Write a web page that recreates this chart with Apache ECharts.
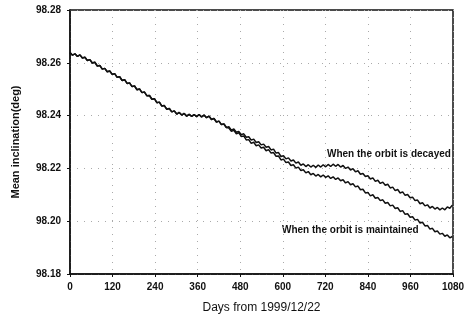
<!DOCTYPE html>
<html>
<head>
<meta charset="utf-8">
<script src="https://cdn.jsdelivr.net/npm/echarts@6/dist/echarts.min.js"></script>
<style>
  html, body { margin: 0; padding: 0; background: #fff; }
  #chart { width: 464px; height: 321px; }
</style>
</head>
<body>
<div id="chart"></div>
<script>
// days from 1999/12/22
const days = [0,7,14,21,28,35,42,49,56,63,70,77,84,91,98,105,112,119,126,133,140,147,154,161,168,175,182,189,196,203,210,217,224,231,238,245,252,259,266,273,280,287,294,301,308,315,322,329,336,343,350,357,364,371,378,385,392,399,406,413,420,427,434,441,448,455,462,469,476,483,490,497,504,511,518,525,532,539,546,553,560,567,574,581,588,595,602,609,616,623,630,637,644,651,658,665,672,679,686,693,700,707,714,721,728,735,742,749,756,763,770,777,784,791,798,805,812,819,826,833,840,847,854,861,868,875,882,889,896,903,910,917,924,931,938,945,952,959,966,973,980,987,994,1001,1008,1015,1022,1029,1036,1043,1050,1057,1064,1071,1078];

// both cases are the same up to day 441
const common = [98.2639,98.2629,98.2634,98.2624,98.2630,98.2618,98.2621,98.2609,98.2612,98.2599,98.2602,98.2588,98.2590,98.2576,98.2579,98.2566,98.2569,98.2556,98.2559,98.2545,98.2547,98.2533,98.2536,98.2522,98.2524,98.2510,98.2512,98.2498,98.2501,98.2487,98.2489,98.2475,98.2476,98.2462,98.2464,98.2449,98.2451,98.2436,98.2438,98.2424,98.2427,98.2414,98.2418,98.2406,98.2412,98.2402,98.2408,98.2398,98.2405,98.2397,98.2404,98.2396,98.2404,98.2395,98.2402,98.2392,98.2398,98.2385,98.2389,98.2376,98.2379,98.2366,98.2368,98.2355];

const decayedTail = [98.2358,98.2345,98.2349,98.2337,98.2340,98.2328,98.2331,98.2318,98.2320,98.2307,98.2311,98.2298,98.2301,98.2289,98.2292,98.2280,98.2283,98.2270,98.2273,98.2258,98.2260,98.2245,98.2248,98.2236,98.2240,98.2228,98.2232,98.2220,98.2224,98.2212,98.2217,98.2207,98.2214,98.2205,98.2212,98.2204,98.2213,98.2205,98.2214,98.2206,98.2215,98.2207,98.2216,98.2208,98.2215,98.2205,98.2211,98.2200,98.2205,98.2194,98.2199,98.2187,98.2191,98.2178,98.2181,98.2169,98.2172,98.2160,98.2164,98.2151,98.2155,98.2143,98.2148,98.2136,98.2140,98.2126,98.2129,98.2116,98.2120,98.2107,98.2111,98.2098,98.2101,98.2089,98.2091,98.2078,98.2080,98.2066,98.2070,98.2058,98.2062,98.2050,98.2056,98.2046,98.2052,98.2043,98.2050,98.2043,98.2054,98.2049,98.2061];

const maintainedTail = [98.2353,98.2341,98.2344,98.2331,98.2335,98.2321,98.2323,98.2308,98.2309,98.2295,98.2299,98.2286,98.2289,98.2277,98.2280,98.2267,98.2271,98.2258,98.2260,98.2246,98.2247,98.2232,98.2235,98.2222,98.2224,98.2211,98.2214,98.2201,98.2205,98.2192,98.2195,98.2183,98.2188,98.2176,98.2181,98.2171,98.2177,98.2168,98.2175,98.2166,98.2172,98.2162,98.2168,98.2158,98.2164,98.2153,98.2157,98.2145,98.2150,98.2138,98.2142,98.2130,98.2133,98.2119,98.2121,98.2107,98.2109,98.2096,98.2100,98.2087,98.2090,98.2078,98.2081,98.2068,98.2071,98.2058,98.2061,98.2048,98.2051,98.2037,98.2040,98.2026,98.2028,98.2015,98.2017,98.2004,98.2007,98.1993,98.1996,98.1982,98.1984,98.1970,98.1973,98.1960,98.1963,98.1951,98.1954,98.1943,98.1948,98.1937,98.1942];

const decayed = common.concat(decayedTail);
const maintained = common.concat(maintainedTail);

const font = 'Liberation Sans, Arial, sans-serif';

function pairs(vals) {
  return days.map((d, i) => [d, vals[i]]);
}

const chart = echarts.init(document.getElementById('chart'));

chart.setOption({
  animation: false,
  backgroundColor: '#fff',
  grid: {
    left: 70, right: 11, top: 10, bottom: 47,
    containLabel: false,
    outerBoundsMode: 'none',
    show: true,
    borderColor: '#111',
    borderWidth: 1.5
  },
  xAxis: {
    type: 'value',
    min: 0, max: 1080, interval: 120,
    name: 'Days from 1999/12/22',
    nameLocation: 'middle',
    nameGap: 28,
    nameTextStyle: { fontFamily: font, fontSize: 12, color: '#111' },
    axisLine: { lineStyle: { color: '#111', width: 1.5 } },
    axisTick: { show: true, length: 3, lineStyle: { color: '#111' } },
    axisLabel: {
      fontFamily: font, fontSize: 10, fontWeight: 'bold', color: '#111', margin: 8,
      formatter: v => String(v)
    },
    splitLine: { show: true, lineStyle: { color: '#aaa', type: [1, 6], width: 1 } }
  },
  yAxis: {
    type: 'value',
    min: 98.18, max: 98.28, interval: 0.02,
    name: 'Mean inclination(deg)',
    nameLocation: 'middle',
    nameRotate: 90,
    nameGap: 49,
    nameTextStyle: { fontFamily: font, fontSize: 11, fontWeight: 'bold', color: '#111' },
    axisLine: { show: true, lineStyle: { color: '#111', width: 1.5 } },
    axisTick: { show: true, length: 3, lineStyle: { color: '#111' } },
    axisLabel: {
      fontFamily: font, fontSize: 10, fontWeight: 'bold', color: '#111', margin: 9,
      formatter: v => v.toFixed(2)
    },
    splitLine: { show: true, lineStyle: { color: '#aaa', type: [1, 6], width: 1 } }
  },
  graphic: [
    {
      type: 'text', left: 327, top: 149,
      style: { text: 'When the orbit is decayed', font: 'bold 10px ' + font, fill: '#111' }
    },
    {
      type: 'text', left: 282, top: 225,
      style: { text: 'When the orbit is maintained', font: 'bold 10px ' + font, fill: '#111' }
    }
  ],
  series: [
    {
      name: 'decayed',
      type: 'line',
      data: pairs(decayed),
      showSymbol: false,
      lineStyle: { color: '#111', width: 1.5 }
    },
    {
      name: 'maintained',
      type: 'line',
      data: pairs(maintained),
      showSymbol: false,
      lineStyle: { color: '#111', width: 1.5 }
    }
  ]
});
</script>
</body>
</html>
